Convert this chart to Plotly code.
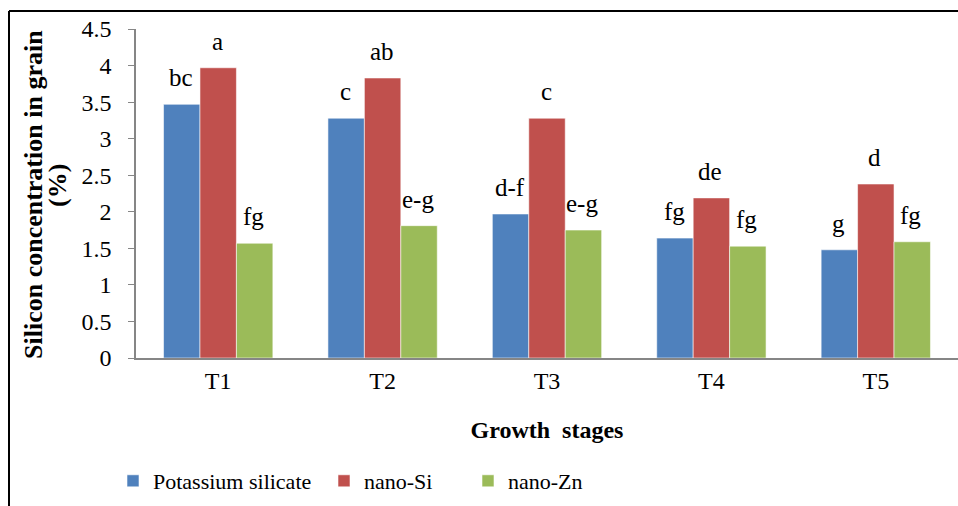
import plotly.graph_objects as go

categories = ["T1", "T2", "T3", "T4", "T5"]
potassium_silicate = [3.47, 3.28, 1.97, 1.64, 1.48]
nano_si = [3.97, 3.83, 3.28, 2.19, 2.38]
nano_zn = [1.57, 1.81, 1.75, 1.53, 1.59]
letters_ps = ["bc", "c", "d-f", "fg", "g"]
letters_si = ["a", "ab", "c", "de", "d"]
letters_zn = ["fg", "e-g", "e-g", "fg", "fg"]
y_ticks = [0, 0.5, 1, 1.5, 2, 2.5, 3, 3.5, 4, 4.5]

FONT = "Liberation Serif, Times New Roman, serif"
series = [
    ("Potassium silicate", potassium_silicate, letters_ps, "#4F81BD", "legend", -36),
    ("nano-Si", nano_si, letters_si, "#C0504D", "legend2", 0),
    ("nano-Zn", nano_zn, letters_zn, "#9BBB59", "legend3", 36),
]

L, T, B = 136, 29, 148
PW, PH = 958 - L, 506 - T - B

fig = go.Figure()
annotations = []
for name, vals, letters, color, leg, shift in series:
    fig.add_trace(go.Bar(
        x=categories, y=vals, name=name, legend=leg, showlegend=True,
        marker=dict(color=color, line=dict(color="rgba(255,255,255,0.7)", width=0.8)),
    ))
    for c, v, t in zip(categories, vals, letters):
        annotations.append(dict(
            x=c, y=v, text=t, xref="x", yref="y", showarrow=False,
            xanchor="center", yanchor="bottom", xshift=shift - 1, yshift=11,
            font=dict(family=FONT, size=25, color="#000"),
        ))

# y-axis title, two lines
annotations.append(dict(
    x=(33 - L) / PW, y=(506 - B - 195) / PH, xref="paper", yref="paper", showarrow=False,
    text="<b>Silicon concentration in grain</b>", textangle=-90,
    xanchor="center", yanchor="middle",
    font=dict(family=FONT, size=26, color="#000"),
))
annotations.append(dict(
    x=(57 - L) / PW, y=(506 - B - 186) / PH, xref="paper", yref="paper", showarrow=False,
    text="<b>(%)</b>", textangle=-90,
    xanchor="center", yanchor="middle",
    font=dict(family=FONT, size=26, color="#000"),
))

legend_common = dict(orientation="h", yanchor="middle", xanchor="left",
                     xref="container", yref="container",
                     font=dict(family=FONT, size=22, color="#000"),
                     bgcolor="rgba(0,0,0,0)", borderwidth=0)

fig.update_layout(
    width=958, height=506,
    margin=dict(l=L, r=0, t=T, b=B, autoexpand=False),
    paper_bgcolor="white", plot_bgcolor="white",
    barmode="group", bargap=0.335, bargroupgap=0,
    font=dict(family=FONT, size=24, color="#000"),
    annotations=annotations,
    showlegend=True,
    legend=dict(x=113 / 958, y=1 - 481 / 506, **legend_common),
    legend2=dict(x=324 / 958, y=1 - 481 / 506, **legend_common),
    legend3=dict(x=468 / 958, y=1 - 481 / 506, **legend_common),
    xaxis=dict(
        showline=True, linecolor="#868686", linewidth=1.5,
        ticks="", tickfont=dict(family=FONT, size=24),
        title=dict(text="<b>Growth  stages</b>", font=dict(family=FONT, size=24), standoff=29),
        showgrid=False, automargin=False,
    ),
    yaxis=dict(
        range=[0, 4.5], tickvals=y_ticks, ticktext=[f"{v:g}" for v in y_ticks],
        showline=True, linecolor="#868686", linewidth=1.5,
        ticks="outside", ticklen=6, tickcolor="#868686", ticklabelstandoff=12,
        tickfont=dict(family=FONT, size=24), showgrid=False, zeroline=False,
        automargin=False,
    ),
    shapes=[
        dict(type="line", xref="paper", yref="paper", x0=(9 - L) / PW, x1=1.0,
             y0=(506 - B - 11) / PH, y1=(506 - B - 11) / PH,
             line=dict(color="#000", width=2)),
        dict(type="line", xref="paper", yref="paper", x0=(9 - L) / PW, x1=(9 - L) / PW,
             y0=(506 - B - 11) / PH, y1=-B / PH - 0.01,
             line=dict(color="#000", width=2)),
    ],
)

fig.write_html(
    "out.html",
    config={"displayModeBar": False},
    post_script="document.body.style.margin='0';document.body.style.padding='0';"
                "document.body.style.overflow='hidden';",
)
